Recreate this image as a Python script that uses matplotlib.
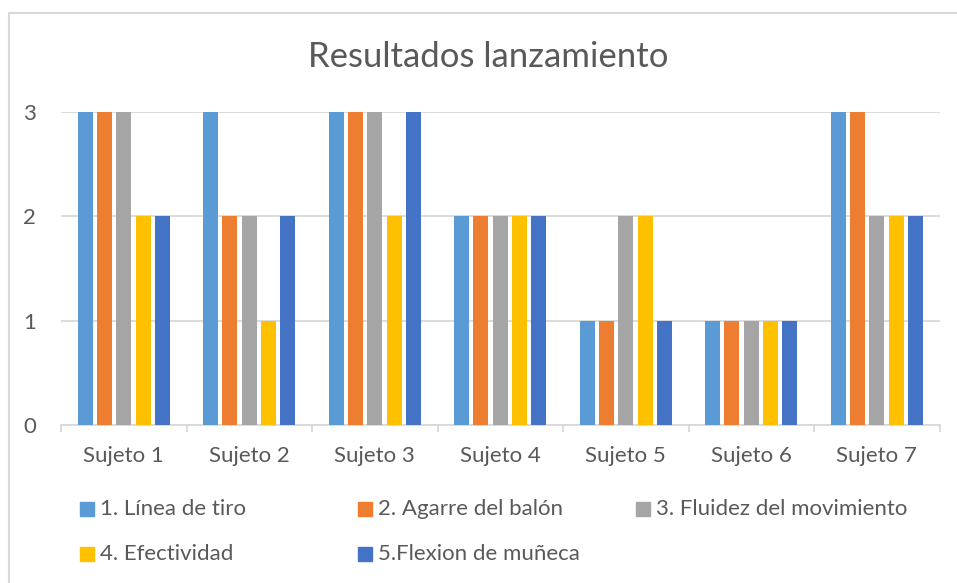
import matplotlib
matplotlib.use("Agg")
import matplotlib.pyplot as plt
import numpy as np
from matplotlib.patches import Rectangle
from matplotlib.lines import Line2D

plt.rcParams['font.family'] = ['Lato', 'DejaVu Sans']

# data
sujetos = ["Sujeto 1", "Sujeto 2", "Sujeto 3", "Sujeto 4", "Sujeto 5", "Sujeto 6", "Sujeto 7"]
series = ["1. Línea de tiro", "2. Agarre del balón", "3. Fluidez del movimiento",
          "4. Efectividad", "5.Flexion de muñeca"]
linea_tiro = [3, 3, 3, 2, 1, 1, 3]
agarre = [3, 2, 3, 2, 1, 1, 3]
fluidez = [3, 2, 3, 2, 2, 1, 2]
efectividad = [2, 1, 2, 2, 2, 1, 2]
flexion = [2, 2, 3, 2, 1, 1, 2]
valores = [linea_tiro, agarre, fluidez, efectividad, flexion]
colores = ["#5B9BD5", "#ED7D31", "#A5A5A5", "#FFC000", "#4472C4"]
yticks = [0, 1, 2, 3]

W, H = 957, 583
fig = plt.figure(figsize=(W / 100, H / 100), dpi=100)
txt = "#595959"
grid = "#D9D9D9"

# chart border (only left/top visible in the crop)
fig.add_artist(Line2D([8.5 / W, 8.5 / W, 1.0], [0, 1 - 12.5 / H, 1 - 12.5 / H],
                      transform=fig.transFigure, color=grid, lw=1.5))

ax = fig.add_axes([61 / W, 158 / H, (939.5 - 61) / W, 313 / H])
x = np.arange(len(sujetos))
paso = 0.154
for i, (vals, c) in enumerate(zip(valores, colores)):
    ax.bar(x + (i - 2) * paso, vals, width=0.12, color=c, zorder=3)

ax.set_xlim(-0.5, len(sujetos) - 0.5)
ax.set_ylim(0, 3)
ax.set_yticks(yticks)
ax.set_xticks(x)
ax.set_xticklabels(sujetos)
ax.set_xticks(np.arange(len(sujetos) + 1) - 0.5, minor=True)
ax.tick_params(axis='x', which='major', length=0, pad=15, labelsize=16, labelcolor=txt)
ax.tick_params(axis='x', which='minor', length=5, color=grid, width=1.3)
ax.tick_params(axis='y', length=0, pad=18, labelsize=16, labelcolor=txt)
ax.grid(axis='y', color=grid, lw=1.3, zorder=0)
for s in ['left', 'right', 'top']:
    ax.spines[s].set_visible(False)
ax.spines['bottom'].set_color(grid)
ax.spines['bottom'].set_linewidth(1.3)

fig.text(488 / W, 1 - 57 / H, "Resultados lanzamiento", ha='center', va='center',
         fontsize=25, color=txt)

# legend
for i, (nombre, c) in enumerate(zip(series, colores)):
    col, fila = i % 3, i // 3
    x0 = 80 + col * 278
    yc = 509 + fila * 45
    fig.add_artist(Rectangle((x0 / W, 1 - (yc + 7) / H), 14 / W, 14 / H,
                             transform=fig.transFigure, color=c))
    fig.text((x0 + 20) / W, 1 - yc / H, nombre, ha='left', va='center',
             fontsize=16, color=txt)

fig.savefig("out.png", dpi=100, facecolor="white")
